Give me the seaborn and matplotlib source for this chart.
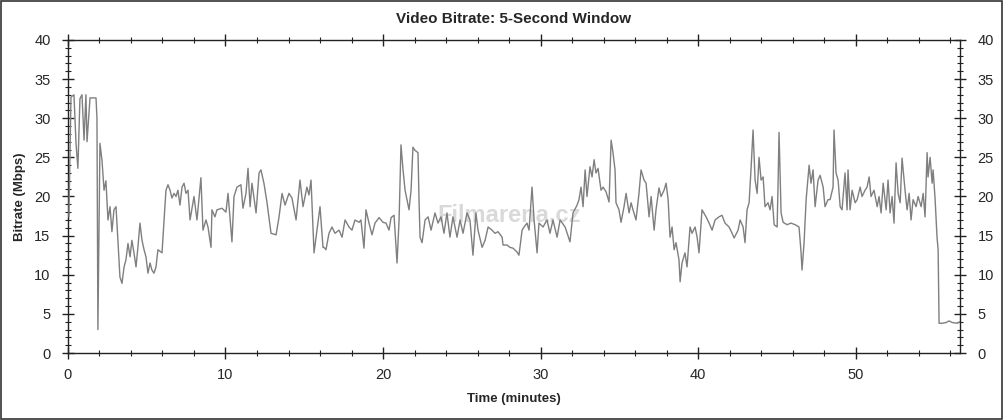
import numpy as np
import pandas as pd
import seaborn as sns
import matplotlib.pyplot as plt
from matplotlib.patches import Rectangle
from matplotlib.ticker import MultipleLocator

# valores: tiempo (minutos) y bitrate (Mbps)
time_min = [
    0.06, 0.19, 0.38, 0.51, 0.63, 0.76, 0.89, 1.02, 1.14, 1.21, 1.40, 1.78, 1.84, 1.90,
    2.03, 2.16, 2.29, 2.41, 2.54, 2.67, 2.79, 2.92, 3.05, 3.17, 3.30, 3.43, 3.56, 3.68,
    3.81, 3.94, 4.06, 4.19, 4.32, 4.44, 4.57, 4.70, 4.83, 4.95, 5.08, 5.21, 5.33, 5.46,
    5.59, 5.71, 5.97, 6.22, 6.35, 6.48, 6.60, 6.73, 6.86, 6.98, 7.11, 7.24, 7.37, 7.49,
    7.62, 7.75, 8.00, 8.19, 8.44, 8.57, 8.76, 8.89, 9.08, 9.14, 9.33, 9.46, 9.78, 10.03,
    10.16, 10.41, 10.54, 10.73, 10.98, 11.11, 11.30, 11.43, 11.56, 11.68, 11.94, 12.13,
    12.25, 12.44, 12.63, 12.89, 13.21, 13.40, 13.59, 13.78, 14.03, 14.22, 14.48, 14.73,
    14.92, 15.17, 15.30, 15.43, 15.62, 15.81, 16.00, 16.19, 16.25, 16.38, 16.57, 16.76,
    16.95, 17.21, 17.40, 17.59, 17.84, 18.03, 18.22, 18.48, 18.60, 18.79, 18.92, 19.11,
    19.30, 19.49, 19.75, 20.00, 20.19, 20.38, 20.51, 20.70, 20.76, 20.89, 21.02, 21.14,
    21.27, 21.40, 21.52, 21.65, 21.78, 21.90, 22.03, 22.22, 22.29, 22.35, 22.48, 22.67,
    22.86, 23.05, 23.30, 23.49, 23.68, 23.87, 24.06, 24.25, 24.44, 24.70, 24.89, 25.08,
    25.33, 25.52, 25.71, 25.90, 26.03, 26.29, 26.48, 26.67, 26.92, 27.11, 27.30, 27.56,
    27.62, 27.87, 28.06, 28.25, 28.51, 28.63, 28.83, 28.95, 29.14, 29.27, 29.46, 29.59,
    29.78, 29.90, 30.16, 30.41, 30.60, 30.79, 31.05, 31.24, 31.56, 31.87, 32.06, 32.32,
    32.44, 32.57, 32.70, 32.83, 32.95, 33.14, 33.27, 33.40, 33.52, 33.65, 33.84, 33.97,
    34.16, 34.35, 34.48, 34.60, 34.73, 34.79, 34.98, 35.11, 35.30, 35.43, 35.62, 35.75,
    35.87, 36.06, 36.25, 36.38, 36.57, 36.70, 36.89, 37.02, 37.21, 37.33, 37.52, 37.65,
    37.84, 37.97, 38.10, 38.22, 38.35, 38.48, 38.60, 38.79, 38.86, 38.98, 39.17, 39.30,
    39.49, 39.62, 39.81, 39.94, 40.06, 40.25, 40.51, 40.70, 40.89, 41.08, 41.33, 41.52,
    41.71, 41.97, 42.16, 42.29, 42.54, 42.67, 42.86, 42.98, 43.11, 43.24, 43.37, 43.49,
    43.62, 43.75, 43.87, 44.00, 44.13, 44.25, 44.44, 44.57, 44.70, 44.83, 45.02, 45.08,
    45.14, 45.27, 45.40, 45.65, 45.90, 46.16, 46.41, 46.54, 46.60, 46.73, 46.86, 47.05,
    47.17, 47.30, 47.43, 47.62, 47.75, 47.94, 48.06, 48.25, 48.38, 48.57, 48.63, 48.76,
    48.89, 49.02, 49.14, 49.33, 49.46, 49.52, 49.65, 49.78, 49.97, 50.10, 50.29, 50.41,
    50.60, 50.73, 50.86, 50.98, 51.17, 51.37, 51.49, 51.62, 51.75, 51.94, 52.06, 52.19,
    52.32, 52.44, 52.57, 52.70, 52.83, 52.95, 53.14, 53.27, 53.40, 53.52, 53.65, 53.84,
    53.97, 54.16, 54.29, 54.41, 54.54, 54.60, 54.73, 54.86, 54.92, 55.05, 55.17, 55.24,
    55.30, 55.49, 55.75, 55.94, 56.13, 56.44, 56.63,
]
bitrate = [
    17.4, 32.7, 33.0, 26.8, 23.6, 32.5, 33.0, 27.2, 33.0, 27.0, 32.6, 32.6, 30.0, 3.0,
    26.8, 24.6, 20.8, 22.0, 17.0, 18.7, 15.5, 18.3, 18.7, 14.4, 9.7, 8.9, 11.0, 11.9,
    14.0, 12.3, 14.4, 12.8, 11.0, 13.5, 16.6, 14.4, 13.2, 12.3, 10.2, 11.5, 10.6, 10.2,
    11.0, 13.2, 12.8, 20.8, 21.5, 20.8, 19.8, 20.4, 20.0, 20.8, 18.9, 21.2, 21.7, 20.4,
    20.8, 17.0, 20.0, 17.0, 22.4, 15.7, 17.0, 16.1, 13.5, 18.3, 17.4, 18.3, 18.5, 18.0,
    20.4, 14.2, 20.0, 21.2, 21.5, 18.5, 20.4, 23.6, 18.7, 21.7, 17.9, 23.0,
    23.4, 21.7, 19.3, 15.3, 15.1, 17.4, 20.4, 18.9, 20.4, 19.8, 17.0, 22.1,
    18.7, 21.2, 20.2, 22.1, 12.8, 15.7, 18.7, 13.5, 13.5, 13.2, 15.3, 16.1,
    15.3, 15.7, 14.8, 17.0, 16.1, 15.7, 17.0, 16.7, 17.0, 13.4, 18.3, 16.6,
    15.1, 16.6, 17.3, 16.7, 16.6, 15.7, 17.3, 17.6, 15.7, 11.5, 17.0, 26.6,
    23.4, 20.8, 19.6, 18.3, 20.8, 26.3, 25.9, 25.6, 19.2, 14.8, 14.1, 17.0,
    17.4, 15.7, 17.9, 16.6, 17.4, 15.3, 17.9, 14.8, 17.4, 14.8, 17.0, 15.3,
    17.9, 17.0, 12.5, 17.9, 15.7, 13.5, 14.4, 16.1, 15.7, 15.3, 15.5, 14.8,
    13.8, 13.8, 13.5, 13.4, 12.9, 12.5, 15.7, 16.1, 16.6, 15.7, 21.2, 17.0,
    12.8, 16.6, 16.1, 17.0, 15.3, 17.0, 14.8, 17.0, 16.1, 14.2, 17.9, 18.9,
    19.6, 21.2, 18.7, 23.4, 20.0, 23.8, 22.5, 24.7, 23.0, 23.6, 20.8, 21.2,
    20.6, 19.3, 27.2, 25.6, 23.4, 19.2, 18.3, 16.7, 18.7, 20.4, 17.9, 19.2,
    18.3, 17.0, 20.4, 23.4, 22.1, 21.7, 17.4, 20.0, 15.7, 18.3, 21.1, 20.0,
    20.8, 21.7, 19.6, 14.8, 16.1, 13.2, 14.1, 11.9, 9.1, 11.5, 12.8, 11.0,
    16.1, 15.3, 16.1, 14.8, 12.8, 18.3, 17.4, 16.6, 15.7, 17.0, 17.4, 17.6,
    16.6, 16.1, 15.3, 14.7, 15.7, 17.0, 16.1, 14.1, 18.3, 19.2, 23.8, 28.5,
    22.1, 20.4, 25.0, 22.1, 22.5, 18.7, 19.2, 18.3, 20.0, 16.4, 16.1, 21.7,
    28.2, 17.9, 16.7, 16.4, 16.6, 16.4, 16.1, 12.8, 10.6, 14.1, 19.6, 24.0,
    21.7, 23.4, 18.7, 22.1, 22.7, 21.2, 18.7, 19.6, 19.6, 21.2, 28.5, 23.0,
    22.1, 18.7, 18.3, 23.0, 18.3, 23.4, 18.3, 20.8, 19.2, 19.6, 21.2, 20.0,
    20.8, 21.2, 22.5, 20.0, 20.8, 18.7, 20.0, 17.9, 21.7, 18.3, 22.1, 17.9,
    20.0, 16.6, 24.3, 20.4, 19.2, 24.9, 20.8, 18.3, 20.4, 17.0, 19.6, 18.7,
    20.0, 18.7, 20.4, 17.4, 25.6, 22.5, 25.0, 21.7, 23.4, 19.6, 14.8, 13.2,
    3.8, 3.8, 3.9, 4.1, 3.9, 3.8, 4.0,
]

df = pd.DataFrame({'Time (minutes)': time_min, 'Bitrate (Mbps)': bitrate})

sns.set_style('ticks')
plt.rcParams['font.family'] = ['Liberation Sans', 'DejaVu Sans']

fig = plt.figure(figsize=(10.04, 4.2), dpi=100)
ax = fig.add_axes([0.0677, 0.1595, 0.8885, 0.7453])

sns.lineplot(data=df, x='Time (minutes)', y='Bitrate (Mbps)', color='#7f7f7f',
             linewidth=1.0, sort=False, estimator=None, ax=ax, zorder=3)

# marca de agua
ax.text(0.495, 0.44, 'Filmarena.cz', transform=ax.transAxes, ha='center', va='center',
        fontsize=17, fontweight='bold', color='#d9d9d9', zorder=1)

ax.set_xlim(0, 56.63)
ax.set_ylim(0, 40)
ax.xaxis.set_major_locator(MultipleLocator(10))
ax.xaxis.set_minor_locator(MultipleLocator(2))
ax.yaxis.set_major_locator(MultipleLocator(5))
ax.yaxis.set_minor_locator(MultipleLocator(1))

for s in ax.spines.values():
    s.set_color('#222222')
    s.set_linewidth(1.0)
ax.tick_params(which='major', direction='inout', length=9, width=1, color='#222222',
               labelsize=10.5, top=True, right=True, labelright=True)
ax.tick_params(which='minor', direction='inout', length=5, width=0.8, color='#222222',
               top=True, right=True)
ax.tick_params(axis='y', which='major', pad=8)
ax.tick_params(axis='x', which='major', pad=6)

ax.set_title('Video Bitrate: 5-Second Window', fontsize=11, fontweight='bold', pad=12)
ax.set_xlabel('Time (minutes)', fontsize=9.5, fontweight='bold', labelpad=8)
ax.set_ylabel('Bitrate (Mbps)', fontsize=9.5, fontweight='bold', labelpad=6)

# borde de la figura
fig.add_artist(Rectangle((0.001, 0.002), 0.997, 0.996, transform=fig.transFigure,
                         fill=False, edgecolor='#333333', linewidth=1.2))

fig.savefig('out.png', dpi=100, facecolor='white')
